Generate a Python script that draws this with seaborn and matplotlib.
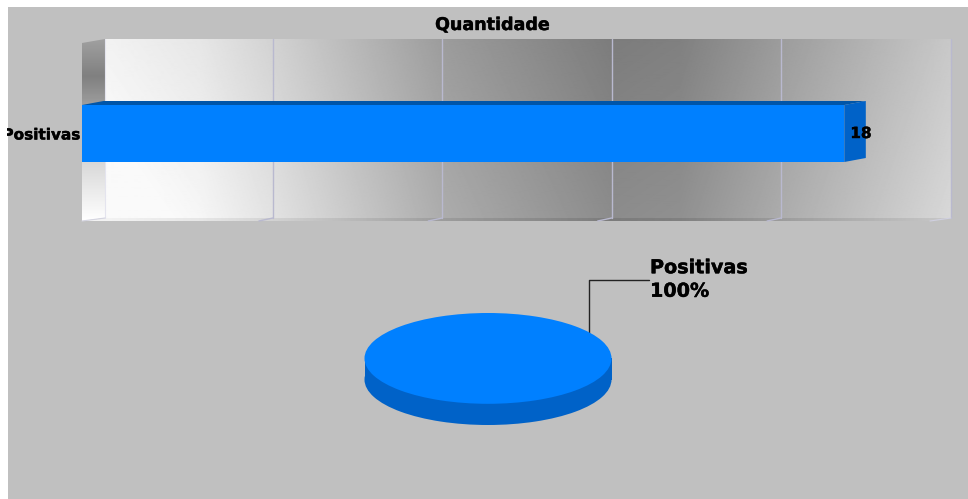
#!/usr/bin/env python3
"""Bar and pie summary of "Quantidade" in a gray 3D-style panel."""

import matplotlib

matplotlib.use("Agg")
import matplotlib.patheffects as pe
import matplotlib.pyplot as plt
import numpy as np
import pandas as pd
import seaborn as sns
from matplotlib.colors import LinearSegmentedColormap
from matplotlib.patches import Polygon, Rectangle

categories = ["Positivas"]
values = [18]
x_ticks = [0, 4, 8, 12, 16, 20]
title = "Quantidade"
pie_label = "Positivas\n100%"

W, H = 968, 499
BLUE = "#0080ff"
BLUE_SIDE = "#0062c8"
BLUE_TOP = "#0055a8"
PANEL = "#c0c0c0"
GRID = "#b9b9cf"
DX, DY = 21.5, 4  # depth of the fake 3D
HEAVY = [pe.withStroke(linewidth=0.3, foreground="black")]  # Verdana-like weight


def axes_px(fig, x0, y0, x1, y1, **kwargs):
    """Add axes using pixel box, y measured from the top."""
    return fig.add_axes([x0 / W, 1 - y1 / H, (x1 - x0) / W, (y1 - y0) / H], **kwargs)


sns.set_theme(style="white")
plt.rcParams["font.family"] = ["DejaVu Sans"]

fig = plt.figure(figsize=(W / 100, H / 100), dpi=100, facecolor="white")

# Background layer in pixel coordinates
bg = axes_px(fig, 0, 0, W, H, zorder=0)
bg.add_patch(Rectangle((8, 7), W - 8, H - 7, color=PANEL, lw=0))

# Back wall: gray level by x, getting a little lighter downwards
wall_x = [105, 200, 273, 443, 612, 680, 781, 951]
wall_v = [250, 238, 218, 164, 132, 136, 164, 208]
xx, yy = np.meshgrid(np.arange(105, 952), np.arange(39, 219))
wall = np.interp(xx, wall_x, wall_v) + 8 * (yy - 128) / 90
bg.imshow(np.clip(wall, 0, 250), cmap="gray", vmin=0, vmax=255, extent=(105, 951, 218, 39), aspect="auto", zorder=1)

# Side wall
side_cmap = LinearSegmentedColormap.from_list(
    "side",
    [(0.0, "#a0a0a0"), (0.2, "#808080"), (0.33, "#989898"), (0.68, "#d8d8d8"), (1.0, "#ffffff")],
)
side = bg.imshow(
    np.linspace(0, 1, 180).reshape(-1, 1),
    cmap=side_cmap,
    extent=(82, 105, 221, 39),
    aspect="auto",
    zorder=1,
)
side.set_clip_path(Polygon([(82, 43), (105, 39), (105, 218), (82, 221)], transform=bg.transData))

# Floor strip, same gradient as the wall but a bit darker
floor = bg.imshow(
    np.interp(np.arange(82, 952), wall_x, wall_v).reshape(1, -1) - 8,
    cmap="gray",
    vmin=0,
    vmax=255,
    extent=(82, 951, 221, 218),
    aspect="auto",
    zorder=1,
)
floor.set_clip_path(Polygon([(105, 218), (951, 218), (930, 221), (82, 221)], transform=bg.transData))
bg.set_xlim(0, W)
bg.set_ylim(H, 0)
bg.axis("off")

# Bar layer, the front plane of the chart
ax = axes_px(fig, 82, 45, 929, 222, zorder=1)
ax.patch.set_alpha(0)
df = pd.DataFrame({"categoria": categories, "quantidade": values})
sns.barplot(
    data=df,
    x="quantidade",
    y="categoria",
    orient="h",
    color=BLUE,
    saturation=1,
    width=0.322,
    linewidth=0,
    ax=ax,
)
ax.set_xlim(x_ticks[0], x_ticks[-1])
ax.set_xlabel("")
ax.set_ylabel("")
ax.set_xticks(x_ticks)
ax.set_xticklabels([])
ax.tick_params(axis="both", length=0, pad=1.5)
ax.tick_params(axis="y", labelsize=11)
for lab in ax.get_yticklabels():
    lab.set_fontweight("bold")
    lab.set_color("black")
    lab.set_verticalalignment("center_baseline")
    lab.set_path_effects(HEAVY)
sns.despine(ax=ax, left=True, bottom=True)


def to_px(x, y):
    return bg.transData.inverted().transform(ax.transData.transform((x, y)))


# Gridlines on the walls
for t in x_ticks[1:]:
    px, _ = to_px(t, 0)
    bg.plot([px + DX, px + DX], [39, 218], color=GRID, lw=1, zorder=2)
    if t < x_ticks[-1]:
        bg.plot([px + DX, px + DX - 14], [218, 221], color=GRID, lw=1, zorder=2)
bg.plot([105, 105], [218, 39], color="#e4e4ee", lw=0.8, zorder=2)
bg.plot([105, 82], [218, 221], color="#d4d4e0", lw=0.8, zorder=2)
bg.plot([951, 930], [218, 221], color="#d0d0e0", lw=0.8, zorder=2)

# 3D faces of the bars
for patch, val in zip(ax.patches, values):
    (x0, y0) = to_px(patch.get_x(), patch.get_y())
    (x1, y1) = to_px(patch.get_x() + patch.get_width(), patch.get_y() + patch.get_height())
    bg.add_patch(
        Polygon([(x0, y0), (x0 + DX, y0 - DY), (x1 + DX, y0 - DY), (x1, y0)], color=BLUE_TOP, lw=0, zorder=3)
    )
    fig.add_artist(
        Polygon(
            [(x1, y0), (x1 + DX, y0 - DY), (x1 + DX, y1 - DY), (x1, y1)],
            transform=bg.transData,
            color=BLUE_SIDE,
            lw=0,
            zorder=2,
        )
    )
    fig.text(
        (x1 + 6) / W,
        1 - ((y0 + y1) / 2) / H,
        str(val),
        fontsize=11,
        fontweight="bold",
        color="black",
        va="center",
        ha="left",
        zorder=3,
        path_effects=HEAVY,
    )

fig.text(
    492.5 / W,
    1 - 25 / H,
    title,
    fontsize=12.6,
    fontweight="bold",
    color="black",
    ha="center",
    va="center",
    path_effects=HEAVY,
)

# Pie with a darker copy underneath for thickness
RY = 45.0
depth = 21 / RY
pie_ax = axes_px(fig, 364.5, 313, 611.5, 425, zorder=1)
pie_ax.patch.set_alpha(0)
pie_ax.pie(values, colors=[BLUE_SIDE], radius=1, center=(0, -depth), startangle=90, wedgeprops={"lw": 0})
pie_ax.add_patch(Rectangle((-1, -depth), 2, depth, color=BLUE_SIDE, lw=0))
pie_ax.pie(values, colors=[BLUE], radius=1, center=(0, 0), startangle=90, wedgeprops={"lw": 0})
pie_ax.set_aspect("auto")
pie_ax.set_xlim(-1, 1)
pie_ax.set_ylim(-1 - depth, 1)
pie_ax.axis("off")

# Leader line and pie label
bg.plot([588.5, 588.5, 649], [334, 279.5, 279.5], color="#222222", lw=1, zorder=2)
fig.text(
    650 / W,
    1 - 279.5 / H,
    pie_label,
    fontsize=13.8,
    fontweight="bold",
    color="black",
    ha="left",
    va="center",
    linespacing=1.3,
    path_effects=HEAVY,
)

# The category label runs off the left side of the picture area
fig.add_artist(Rectangle((0, 0), 6.5 / W, 1, transform=fig.transFigure, color="white", lw=0, zorder=5))

fig.savefig("out.png", dpi=100, facecolor="white")
plt.close(fig)
